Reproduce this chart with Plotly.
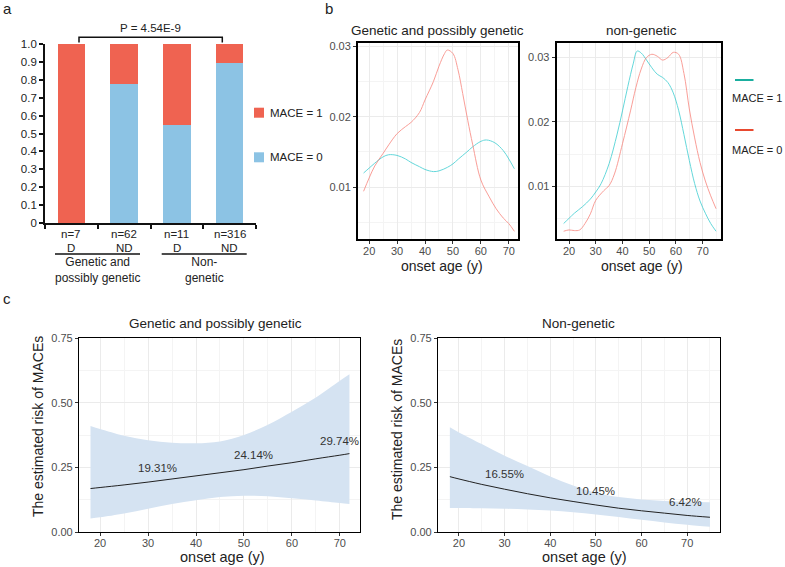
import plotly.graph_objects as go

W, H = 785, 567
FONT = "Arial, Liberation Sans, sans-serif"

# ---------------- Panel a data ----------------
bar_ids = ["G_D", "G_ND", "N_D", "N_ND"]
bar_n = ["n=7", "n=62", "n=11", "n=316"]
bar_dx = ["D", "ND", "D", "ND"]
mace0_frac = [0.0, 0.774, 0.545, 0.892]
mace1_frac = [1.0, 0.226, 0.455, 0.108]
group_labels = ["Genetic and<br>possibly genetic", "Non-<br>genetic"]
a_yticks = [0, 0.1, 0.2, 0.3, 0.4, 0.5, 0.6, 0.7, 0.8, 0.9, 1.0]
a_yticklabels = ["0", "0.1", "0.2", "0.3", "0.4", "0.5", "0.6", "0.7", "0.8", "0.9", "1.0"]
p_label = "P = 4.54E-9"
a_legend = ["MACE = 1", "MACE = 0"]

# ---------------- Panel b data ----------------
b_titles = ["Genetic and possibly genetic", "non-genetic"]
b_legend = ["MACE = 1", "MACE = 0"]

gen_red_age = [18, 20, 22, 25, 27, 30, 33, 35, 38, 40, 43, 45, 47, 48, 50, 51.8, 53.5, 55.3, 57.1, 60, 63, 65.5, 68, 70, 72]
gen_red_den = [0.0094, 0.0113, 0.0130, 0.0148, 0.0160, 0.0176, 0.0186, 0.0192, 0.0206, 0.0224, 0.0250, 0.0272, 0.0290, 0.0295,
               0.0290, 0.0267, 0.0233, 0.0195, 0.0160, 0.0110, 0.0086, 0.0069, 0.0056, 0.0048, 0.0037]
gen_teal_age = [18, 20, 22, 25, 27, 30, 33, 35, 38, 40, 43, 45, 48, 50, 52, 55, 57, 60, 62, 65, 68, 70, 72]
gen_teal_den = [0.0120, 0.0127, 0.0134, 0.0143, 0.0146, 0.0145, 0.0140, 0.0135, 0.0129, 0.0125, 0.0122, 0.0123, 0.0128,
                0.0133, 0.0140, 0.0150, 0.0157, 0.0165, 0.0167, 0.0163, 0.0152, 0.0140, 0.0126]

non_teal_age = [18, 20, 22, 25, 28, 30, 32, 35, 38, 40, 42, 44, 45.5, 47, 49, 51, 53, 55, 57, 59, 61, 63, 65, 67, 69, 71, 73, 75]
non_teal_den = [0.0042, 0.0050, 0.0058, 0.0068, 0.0080, 0.0091, 0.0104, 0.0135, 0.0181, 0.0217, 0.0255, 0.0290, 0.0310,
                0.0307, 0.0296, 0.0284, 0.0274, 0.0269, 0.0261, 0.0245, 0.0218, 0.0180, 0.0140, 0.0104, 0.0077, 0.0058,
                0.0042, 0.0030]
non_red_age = [18, 20, 22, 24, 26, 28, 30, 33, 35, 37, 40, 43, 45, 47, 49, 51, 53, 55, 57, 59, 61, 63, 65, 67, 69, 71, 73, 75]
non_red_den = [0.0030, 0.0032, 0.0031, 0.0032, 0.0042, 0.0057, 0.0078, 0.0093, 0.0101, 0.0119, 0.0166, 0.0217, 0.0253,
               0.0282, 0.0300, 0.0305, 0.0302, 0.0296, 0.0300, 0.0308, 0.0305, 0.0275, 0.0220, 0.0175, 0.0137, 0.0108,
               0.0085, 0.0065]

# ---------------- Panel c data ----------------
c_titles = ["Genetic and possibly genetic", "Non-genetic"]
c_ytitle = "The estimated risk of MACEs"
x_title = "onset age (y)"

gen_age = [18, 20, 25, 30, 35, 40, 45, 50, 55, 60, 65, 70, 72]
gen_risk = [0.168, 0.172, 0.182, 0.193, 0.205, 0.217, 0.229, 0.241, 0.255, 0.268, 0.283, 0.297, 0.303]
gen_upper = [0.410, 0.398, 0.372, 0.355, 0.345, 0.343, 0.350, 0.375, 0.415, 0.465, 0.520, 0.585, 0.610]
gen_lower = [0.052, 0.057, 0.072, 0.090, 0.108, 0.123, 0.135, 0.140, 0.138, 0.130, 0.122, 0.112, 0.108]
gen_lab_age = [32, 52, 70]
gen_lab_y = [0.248, 0.297, 0.350]
gen_lab_txt = ["19.31%", "24.14%", "29.74%"]

non_age = [18, 20, 25, 30, 35, 40, 45, 50, 55, 60, 65, 70, 75]
non_risk = [0.214, 0.205, 0.184, 0.1655, 0.148, 0.132, 0.118, 0.1045, 0.092, 0.082, 0.073, 0.064, 0.057]
non_upper = [0.405, 0.385, 0.340, 0.295, 0.255, 0.215, 0.180, 0.152, 0.135, 0.126, 0.120, 0.117, 0.115]
non_lower = [0.093, 0.093, 0.092, 0.090, 0.087, 0.083, 0.076, 0.068, 0.058, 0.047, 0.037, 0.028, 0.020]
non_lab_age = [30, 50, 69.6]
non_lab_y = [0.226, 0.159, 0.116]
non_lab_txt = ["16.55%", "10.45%", "6.42%"]

RED_BAR = "#EF6351"
BLUE_BAR = "#8CC3E4"
TEAL = "#00BFC4"
SALMON = "#F8766D"
BAND = "#D5E3F2"


def X(px):
    return px / W


def Y(py):
    return 1 - py / H


fig = go.Figure()

# ---- panel a bars
fig.add_trace(go.Bar(x=bar_ids, y=mace0_frac, marker_color=BLUE_BAR, width=0.52, name=a_legend[1],
                     xaxis="x", yaxis="y", marker_line_width=0))
fig.add_trace(go.Bar(x=bar_ids, y=mace1_frac, marker_color=RED_BAR, width=0.52, name=a_legend[0],
                     xaxis="x", yaxis="y", marker_line_width=0))

# ---- panel b densities
fig.add_trace(go.Scatter(x=gen_teal_age, y=gen_teal_den, mode="lines", line=dict(color=TEAL, width=1, shape="spline"),
                         opacity=0.6, xaxis="x2", yaxis="y2"))
fig.add_trace(go.Scatter(x=gen_red_age, y=gen_red_den, mode="lines", line=dict(color=SALMON, width=1, shape="spline"),
                         opacity=0.7, xaxis="x2", yaxis="y2"))
fig.add_trace(go.Scatter(x=non_teal_age, y=non_teal_den, mode="lines", line=dict(color=TEAL, width=1, shape="spline"),
                         opacity=0.6, xaxis="x3", yaxis="y3"))
fig.add_trace(go.Scatter(x=non_red_age, y=non_red_den, mode="lines", line=dict(color=SALMON, width=1, shape="spline"),
                         opacity=0.7, xaxis="x3", yaxis="y3"))

# ---- panel c bands + lines
for ages, lo, up, risk, xa, ya in [(gen_age, gen_lower, gen_upper, gen_risk, "x4", "y4"),
                                    (non_age, non_lower, non_upper, non_risk, "x5", "y5")]:
    fig.add_trace(go.Scatter(x=ages, y=lo, mode="lines", line=dict(width=0, shape="spline"), xaxis=xa, yaxis=ya,
                             hoverinfo="skip"))
    fig.add_trace(go.Scatter(x=ages, y=up, mode="lines", line=dict(width=0, shape="spline"), fill="tonexty",
                             fillcolor=BAND, xaxis=xa, yaxis=ya, hoverinfo="skip"))
    fig.add_trace(go.Scatter(x=ages, y=risk, mode="lines", line=dict(color="#222222", width=1, shape="spline"),
                             xaxis=xa, yaxis=ya))

tickfont_b = dict(family=FONT, size=11, color="#4D4D4D")
grid_major = "#EBEBEB"
grid_minor = "#F4F4F4"


def frame_axis(domain, rng, dtick, minor_dtick, anchor, lw, tickformat=None, standoff=0):
    d = dict(domain=domain, range=rng, dtick=dtick, tick0=0, anchor=anchor, showline=True, mirror=True,
             linecolor="black", linewidth=lw, ticks="outside", ticklen=3, tickwidth=1, tickcolor="#333333",
             tickfont=tickfont_b, showgrid=True, gridcolor=grid_major, gridwidth=1, zeroline=False,
             automargin=False, ticklabelstandoff=standoff,
             minor=dict(dtick=minor_dtick, tick0=0, showgrid=True, gridcolor=grid_minor, gridwidth=0.6))
    if tickformat:
        d["tickformat"] = tickformat
    return d


layout = dict(
    template="none",
    width=W, height=H, margin=dict(l=0, r=0, t=0, b=0, pad=0), autosize=False,
    paper_bgcolor="white", plot_bgcolor="white", showlegend=False, barmode="stack", bargap=0,
    font=dict(family=FONT, color="#222222"),
    # panel a
    xaxis=dict(domain=[X(45), X(256)], range=[-0.5, 3.5], anchor="y", type="category", showline=True,
               linecolor="#111111", linewidth=1.6, ticks="outside", tickson="boundaries", ticklen=4, tickwidth=1.5,
               tickcolor="#111111", showticklabels=False, showgrid=False, zeroline=False, automargin=False),
    yaxis=dict(domain=[Y(223), Y(44)], range=[0, 1.0], anchor="x", showline=True, linecolor="#111111",
               linewidth=1.8, ticks="outside", ticklen=4, tickwidth=1.5, tickcolor="#111111", tickvals=a_yticks,
               ticktext=a_yticklabels, tickfont=dict(family=FONT, size=11.5, color="#222222"), showgrid=False,
               zeroline=False, automargin=False),
    # panel b
    xaxis2=frame_axis([X(358), X(518)], [16.0, 73.3], 10, 5, "y2", 2, standoff=-2),
    yaxis2=frame_axis([Y(238.7), Y(42.5)], [0.00265, 0.03057], 0.01, 0.005, "x2", 2),
    xaxis3=frame_axis([X(556.7), X(721)], [15.4, 76.85], 10, 5, "y3", 2, standoff=-2),
    yaxis3=frame_axis([Y(238.7), Y(42.5)], [0.00184, 0.03233], 0.01, 0.005, "x3", 2),
    # panel c
    xaxis4=frame_axis([X(79), X(360)], [15.6, 74.2], 10, 5, "y4", 1.2, standoff=-2),
    yaxis4=frame_axis([Y(532), Y(338)], [0, 0.75], 0.25, 0.125, "x4", 1.2, tickformat=".2f"),
    xaxis5=frame_axis([X(438), X(720)], [15.4, 77.2], 10, 5, "y5", 1.2, standoff=-2),
    yaxis5=frame_axis([Y(532), Y(338)], [0, 0.75], 0.25, 0.125, "x5", 1.2, tickformat=".2f"),
)
fig.update_layout(**layout)

ann = []
shapes = []


def text(x, y, s, size, xanchor="center", yanchor="middle", color="#222222", xref="paper", yref="paper",
         angle=0):
    ann.append(dict(x=x, y=y, xref=xref, yref=yref, text=s, showarrow=False, xanchor=xanchor, yanchor=yanchor,
                    font=dict(family=FONT, size=size, color=color), textangle=angle))


# panel letters
text(X(1), Y(9), "a", 15, xanchor="left")
text(X(323), Y(9), "b", 15, xanchor="left")
text(X(1), Y(298), "c", 15, xanchor="left")

# panel a category labels
for cid, n, dx in zip(bar_ids, bar_n, bar_dx):
    text(cid, Y(234), n, 11.5, xref="x")
    text(cid, Y(248.5), dx, 11.5, xref="x")
text(X(97.5), Y(270), group_labels[0], 12)
text(X(204), Y(270), group_labels[1], 12)
for x0, x1 in [(55, 140), (161.7, 246.7)]:
    shapes.append(dict(type="line", xref="paper", yref="paper", x0=X(x0), x1=X(x1), y0=Y(254), y1=Y(254),
                       line=dict(color="#111111", width=1.5)))

# p-value bracket
shapes.append(dict(type="path", xref="paper", yref="paper",
                   path=f"M {X(79)},{Y(42.5)} L {X(79)},{Y(37.3)} L {X(222.3)},{Y(37.3)} L {X(222.3)},{Y(42.5)}",
                   line=dict(color="#111111", width=1.5)))
text(X(150.5), Y(28), p_label, 11.5)

# panel a legend
for (lbl, col, yc) in [(a_legend[0], RED_BAR, 112.7), (a_legend[1], BLUE_BAR, 157.3)]:
    shapes.append(dict(type="rect", xref="paper", yref="paper", x0=X(254), x1=X(264), y0=Y(yc - 5), y1=Y(yc + 5),
                       fillcolor=col, line=dict(width=0)))
    text(X(268.3), Y(yc), lbl, 11.5, xanchor="left")

# panel b titles and axis titles
text(X(437), Y(30), b_titles[0], 13.5)
text(X(641), Y(30), b_titles[1], 13.5)
text(X(442), Y(265.5), x_title, 14)
text(X(642), Y(265.5), x_title, 14)

# panel b legend
for (lbl, col, yl, yt) in [(b_legend[0], "#1AAE9F", 80, 98.5), (b_legend[1], "#E8492F", 130, 149.5)]:
    shapes.append(dict(type="line", xref="paper", yref="paper", x0=X(735), x1=X(753.5), y0=Y(yl), y1=Y(yl),
                       line=dict(color=col, width=2)))
    text(X(784), Y(yt), lbl, 11, xanchor="right")

# panel c titles, axis titles
text(X(215), Y(323), c_titles[0], 13.5)
text(X(578), Y(323), c_titles[1], 13.5)
text(X(222), Y(557), x_title, 14.5)
text(X(584), Y(557), x_title, 14.5)
text(X(38), Y(427), c_ytitle, 14, angle=-90)
text(X(397), Y(430), c_ytitle, 14, angle=-90)

# panel c value labels
for xs, ys, ts, xr, yr in [(gen_lab_age, gen_lab_y, gen_lab_txt, "x4", "y4"),
                           (non_lab_age, non_lab_y, non_lab_txt, "x5", "y5")]:
    for xv, yv, tv in zip(xs, ys, ts):
        text(xv, yv, tv, 11.5, xref=xr, yref=yr, color="#333333")

fig.update_layout(annotations=ann, shapes=shapes)
fig.write_html("out.html", config={"displayModeBar": False},
               post_script="document.body.style.margin='0px';document.body.style.overflow='hidden';")
